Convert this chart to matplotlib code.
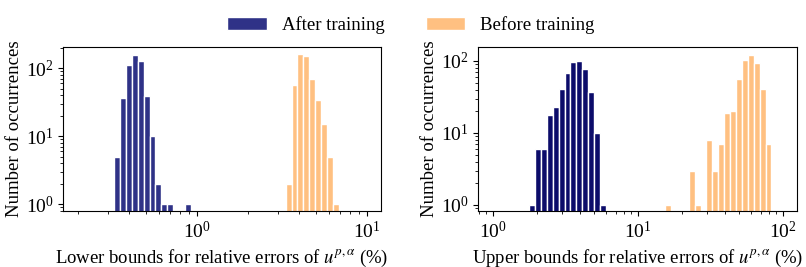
import numpy as np
import matplotlib
matplotlib.use("Agg")
import matplotlib.pyplot as plt
from matplotlib.patches import Patch

plt.rcParams['font.family'] = ['Liberation Serif', 'DejaVu Serif']
plt.rcParams['mathtext.fontset'] = 'stix'
plt.rcParams['font.size'] = 13.5

# histogram counts (log-spaced bins, shared grid per panel)
# lower bounds panel: grid starts at 10**-0.4865, bin width 0.0348 decades
lower_after_counts = [5, 37, 113, 157, 126, 39, 10, 2, 1, 1, 0, 0, 1]
lower_before_counts = [2, 57, 159, 153, 70, 34, 15, 5, 1]
lower_before_offset = 29

# upper bounds panel: grid starts at 10**0.248, bin width 0.0408 decades
upper_after_counts = [1, 6, 6, 18, 23, 41, 67, 96, 100, 77, 37, 10, 1]
upper_before_counts = [1, 0, 0, 0, 3, 1, 0, 8, 3, 7, 19, 20, 56, 102, 120, 93, 41, 7]
upper_before_offset = 23

LOWER_GRID = (-0.4865, 0.0348)
UPPER_GRID = (0.248, 0.0408)

C_AFTER_L = "#2f3287"
C_AFTER_R = "#0c0c6a"
C_BEFORE = "#ffc081"


def draw_hist(ax, counts, offset, grid, color):
    start, width = grid
    idx = np.arange(len(counts)) + offset
    left = 10 ** (start + idx * width)
    right = 10 ** (start + (idx + 1) * width)
    counts = np.array(counts, dtype=float)
    keep = counts > 0
    ax.bar(left[keep], counts[keep], width=(right - left)[keep], align='edge',
           color=color, edgecolor='white', linewidth=1.0, bottom=0)


def style_axes(ax):
    ax.set_xscale('log')
    ax.set_yscale('log')
    ax.tick_params(which='major', length=3.5, width=0.8, labelsize=14)
    ax.tick_params(which='minor', length=2, width=0.6)
    for s in ax.spines.values():
        s.set_linewidth(0.8)
    ax.set_ylabel('Number of occurrences', labelpad=2)


fig = plt.figure(figsize=(8.06, 2.67), dpi=100)
ax1 = fig.add_axes([0.0785, 0.2097, 0.394, 0.6143])
ax2 = fig.add_axes([0.5934, 0.2097, 0.3958, 0.6143])

draw_hist(ax1, lower_after_counts, 0, LOWER_GRID, C_AFTER_L)
draw_hist(ax1, lower_before_counts, lower_before_offset, LOWER_GRID, C_BEFORE)
style_axes(ax1)
ax1.set_xlim(0.164, 12.1)
ax1.set_ylim(0.79, 205)
ax1.set_xlabel(r'Lower bounds for relative errors of $u^{p,\alpha}$ (%)')

draw_hist(ax2, upper_after_counts, 0, UPPER_GRID, C_AFTER_R)
draw_hist(ax2, upper_before_counts, upper_before_offset, UPPER_GRID, C_BEFORE)
style_axes(ax2)
ax2.set_xlim(0.79, 125.6)
ax2.set_ylim(0.825, 156)
ax2.set_xlabel(r'Upper bounds for relative errors of $u^{p,\alpha}$ (%)')

handles = [Patch(facecolor=C_AFTER_L, edgecolor='white', label='After training'),
           Patch(facecolor=C_BEFORE, edgecolor='white', label='Before training')]
fig.legend(handles=handles, loc='center', bbox_to_anchor=(0.51, 0.905), ncol=2,
           frameon=False, handlelength=2.1, columnspacing=2.2, fontsize=13.5)

fig.savefig('out.png', dpi=100)
